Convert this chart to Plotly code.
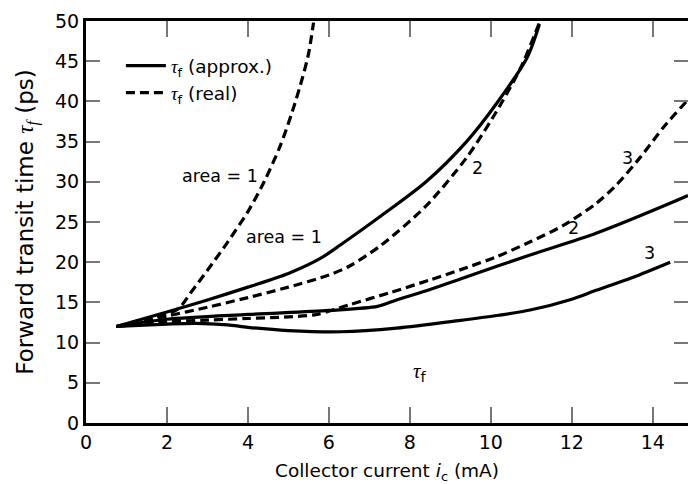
import plotly.graph_objects as go

# Collector current (mA) and forward transit time (ps) for each emitter area
ic_a1_real = [0.75, 1.5, 2.25, 2.6, 3.0, 3.5, 4.0, 4.4, 4.8, 5.1, 5.35, 5.5, 5.62]
tf_a1_real = [12.0, 13.0, 14.1, 16.3, 19.0, 22.5, 26.3, 30.0, 34.5, 38.8, 43.0, 46.0, 49.8]

ic_a1_approx = [0.75, 2.0, 3.0, 4.0, 5.0, 5.8, 6.3, 7.3, 8.4, 9.4, 10.15, 10.9, 11.2]
tf_a1_approx = [12.0, 13.8, 15.3, 16.9, 18.6, 20.5, 22.2, 25.8, 30.0, 35.0, 39.8, 45.5, 49.6]

ic_a2_real = [0.75, 2.0, 3.0, 4.0, 5.0, 6.0, 6.5, 7.26, 8.4, 9.4, 10.05, 10.72, 11.2]
tf_a2_real = [12.0, 13.3, 14.4, 15.6, 16.9, 18.4, 19.5, 22.0, 27.0, 33.0, 38.0, 44.0, 49.8]

ic_a2_approx = [0.75, 2.0, 4.0, 6.0, 7.2, 7.67, 8.5, 9.3, 10.97, 12.6, 14.6, 14.87]
tf_a2_approx = [12.0, 12.9, 13.5, 14.0, 14.5, 15.3, 16.6, 18.0, 20.9, 23.6, 27.7, 28.3]

ic_a3_real = [0.75, 2.0, 3.0, 4.0, 5.0, 5.7, 6.5, 7.5, 8.5, 9.5, 10.15, 11.0, 11.8, 12.6, 13.1, 13.7, 14.3, 14.87]
tf_a3_real = [12.0, 12.6, 12.8, 13.0, 13.2, 13.5, 14.7, 16.2, 17.8, 19.5, 20.7, 22.6, 24.6, 27.3, 29.6, 33.1, 37.0, 40.2]

ic_a3_approx = [0.75, 2.0, 2.7, 3.5, 4.0, 5.0, 6.3, 7.67, 9.3, 10.2, 10.97, 12.0, 12.6, 13.5, 14.43]
tf_a3_approx = [12.0, 12.3, 12.4, 12.2, 11.9, 11.5, 11.35, 11.8, 12.8, 13.4, 14.05, 15.4, 16.5, 18.1, 20.0]

x_ticks = [0, 2, 4, 6, 8, 10, 12, 14]
y_ticks = [0, 5, 10, 15, 20, 25, 30, 35, 40, 45, 50]

# Curve labels: (x, y, text)
curve_labels = [
    (3.31, 30.7, "area = 1"),
    (4.89, 23.1, "area = 1"),
    (9.68, 31.7, "2"),
    (13.37, 32.9, "3"),
    (12.04, 24.2, "2"),
    (13.93, 21.1, "3"),
]

TAU = '<span style="font-family:Liberation Serif"><i>τ</i></span>'
FONT = "DejaVu Sans, Liberation Sans, sans-serif"
LW = 3.2
DASH = "9px,5px"

fig = go.Figure()

series = [
    (ic_a1_approx, tf_a1_approx, "solid", True, TAU + "<sub>f</sub> (approx.)"),
    (ic_a1_real, tf_a1_real, DASH, True, TAU + "<sub>f</sub> (real)"),
    (ic_a2_approx, tf_a2_approx, "solid", False, None),
    (ic_a2_real, tf_a2_real, DASH, False, None),
    (ic_a3_approx, tf_a3_approx, "solid", False, None),
    (ic_a3_real, tf_a3_real, DASH, False, None),
]
for xs, ys, dash, show, name in series:
    fig.add_trace(go.Scatter(
        x=xs, y=ys, mode="lines",
        line=dict(color="black", width=LW, dash=dash, shape="spline", smoothing=0.8),
        showlegend=show, name=name, hoverinfo="skip",
    ))

# invisible trace that carries the right-hand tick axis
fig.add_trace(go.Scatter(x=[0], y=[0], yaxis="y2", mode="markers",
                         marker=dict(opacity=0), showlegend=False, hoverinfo="skip"))

for x, y, t in curve_labels:
    fig.add_annotation(x=x, y=y, text=t, showarrow=False,
                       font=dict(family=FONT, size=17.5, color="black"))

fig.add_annotation(x=8.25, y=6.3, text=TAU + "<sub>f</sub>", showarrow=False,
                   font=dict(family=FONT, size=21, color="black"))

fig.update_layout(
    width=688, height=484,
    margin=dict(l=86, r=0, t=21, b=61),
    paper_bgcolor="white", plot_bgcolor="white",
    font=dict(family=FONT, size=18, color="black"),
    legend=dict(x=0.058, y=0.935, xanchor="left", yanchor="top",
                bgcolor="rgba(0,0,0,0)", font=dict(size=18.5),
                itemwidth=40, tracegroupgap=0),
    xaxis=dict(
        range=[0, 14.87], tickvals=x_ticks, ticks="inside", ticklen=16,
        tickwidth=1.5, tickcolor="#777", showline=True, linewidth=3,
        linecolor="black", mirror="ticks", showgrid=False, zeroline=False,
        tickfont=dict(size=19),
        title=dict(text="Collector current <i>i</i><sub>c</sub> (mA)",
                   font=dict(size=18.5), standoff=17),
    ),
    yaxis=dict(
        range=[0, 50], tickvals=y_ticks, ticks="inside", ticklen=14,
        tickwidth=1.5, tickcolor="#777", showline=True, linewidth=3,
        linecolor="black", showgrid=False, zeroline=False,
        tickfont=dict(size=19),
        title=dict(text="Forward transit time " + '<span style="font-family:Liberation Serif"><i>τ<sub>f</sub></i></span>' + " (ps)",
                   font=dict(size=23), standoff=15),
    ),
    yaxis2=dict(
        range=[0, 50], tickvals=y_ticks, overlaying="y", side="right",
        anchor="x", ticks="inside", ticklen=14, tickwidth=1.5,
        tickcolor="#777", showline=False, showticklabels=False,
        showgrid=False, zeroline=False,
    ),
)

fig.write_html("out.html")
